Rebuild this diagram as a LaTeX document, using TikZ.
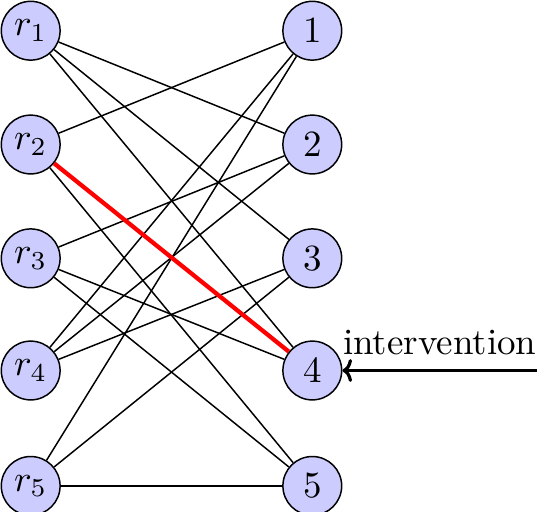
\documentclass[tikz,border=0pt]{standalone}
\usetikzlibrary{arrows.meta}
\begin{document}
\begin{tikzpicture}[x=0.2705pt,y=-0.2705pt,
  vtx/.style={circle,draw,fill=blue!20,inner sep=0pt,minimum size=15.9pt,line width=0.4pt},
  edge/.style={line width=0.4pt},
  hot/.style={red,line width=1.15pt},
  interv/.style={line width=0.87pt,{Computer Modern Rightarrow[length=2.6pt,width=6.2pt]}-}]
\useasboundingbox (0,0) rectangle (549,511);
\foreach \i/\y in {1/30.7,2/144.5,3/258.3,4/370.5,5/485.9}{
  \coordinate (L\i) at (30.7,\y);
  \coordinate (R\i) at (312.3,\y);
}
\node[vtx] (r1) at (L1) {$r_1$};
\node[vtx] (r2) at (L2) {$r_2$};
\node[vtx] (r3) at (L3) {$r_3$};
\node[vtx] (r4) at (L4) {$r_4$};
\node[vtx] (r5) at (L5) {$r_5$};
\node[vtx] (n1) at (R1) {$1$};
\node[vtx] (n2) at (R2) {$2$};
\node[vtx] (n3) at (R3) {$3$};
\node[vtx] (n4) at (R4) {$4$};
\node[vtx] (n5) at (R5) {$5$};
\draw[edge] (r1) -- (n2);
\draw[edge] (r1) -- (n3);
\draw[edge] (r1) -- (n4);
\draw[edge] (r2) -- (n1);
\draw[edge] (r2) -- (n5);
\draw[edge] (r3) -- (n2);
\draw[edge] (r3) -- (n4);
\draw[edge] (r3) -- (n5);
\draw[edge] (r4) -- (n1);
\draw[edge] (r4) -- (n2);
\draw[edge] (r4) -- (n3);
\draw[edge] (r5) -- (n1);
\draw[edge] (r5) -- (n3);
\draw[edge] (r5) -- (n5);
\draw[hot] (r2) -- (n4);
\coordinate (src) at (537,370.5);
\draw[interv] (n4) -- node[above,inner sep=3.8pt] {intervention} (src);
\end{tikzpicture}
\end{document}
